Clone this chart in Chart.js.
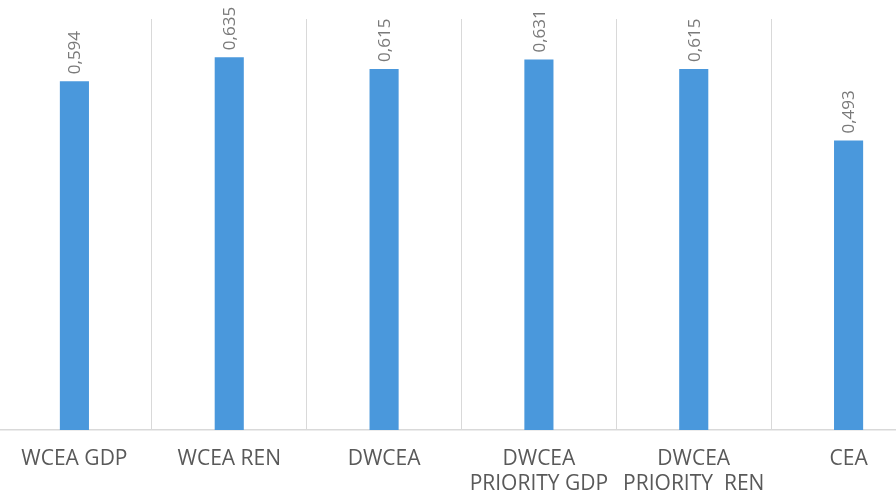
<!DOCTYPE html>
<html>
<head>
<meta charset="utf-8">
<script src="https://cdn.jsdelivr.net/npm/chart.js@4/dist/chart.umd.min.js"></script>
<style>
  html, body { margin: 0; padding: 0; background: #ffffff; overflow: hidden; width: 896px; height: 498px; }
  #wrap { position: absolute; left: -3px; top: 0; width: 929px; height: 498px; }
</style>
</head>
<body>
<div id="wrap"><canvas id="c"></canvas></div>
<script>
const categories = [
  ["WCEA GDP"],
  ["WCEA REN"],
  ["DWCEA"],
  ["DWCEA", "PRIORITY GDP"],
  ["DWCEA", "PRIORITY  REN"],
  ["CEA"]
];
const values = [0.594, 0.635, 0.615, 0.631, 0.615, 0.493];

const valueLabels = {
  id: 'valueLabels',
  afterDatasetsDraw(chart) {
    const ctx = chart.ctx;
    const meta = chart.getDatasetMeta(0);
    ctx.save();
    ctx.fillStyle = '#7a7a7a';
    ctx.font = '17px "Open Sans"';
    ctx.textAlign = 'left';
    ctx.textBaseline = 'middle';
    meta.data.forEach((bar, i) => {
      const txt = values[i].toFixed(3).replace('.', ',');
      ctx.save();
      ctx.translate(bar.x + 1, bar.y - 7);
      ctx.rotate(-Math.PI / 2);
      ctx.fillText(txt, 0, 0);
      ctx.restore();
    });
    ctx.restore();
  }
};

new Chart(document.getElementById('c'), {
  type: 'bar',
  data: {
    labels: categories,
    datasets: [{
      data: values,
      backgroundColor: '#4a98dc',
      borderWidth: 0,
      barPercentage: 0.188,
      categoryPercentage: 1.0
    }]
  },
  options: {
    responsive: true,
    maintainAspectRatio: false,
    animation: false,
    layout: { padding: { top: 19, left: 0, right: 0, bottom: 0 } },
    plugins: { legend: { display: false }, tooltip: { enabled: false } },
    scales: {
      x: {
        grid: { display: true, color: '#d9d9d9', lineWidth: 1, drawTicks: false, offset: true },
        border: { display: true, color: '#d9d9d9', width: 1.5 },
        ticks: {
          color: '#595959',
          font: { family: '"Open Sans"', size: 21, lineHeight: 1.19 },
          padding: 17,
          maxRotation: 0,
          autoSkip: false
        },
        afterFit(scale) { scale.height = 68; }
      },
      y: {
        display: false,
        min: 0,
        max: 0.7
      }
    }
  },
  plugins: [valueLabels]
});
</script>
</body>
</html>
